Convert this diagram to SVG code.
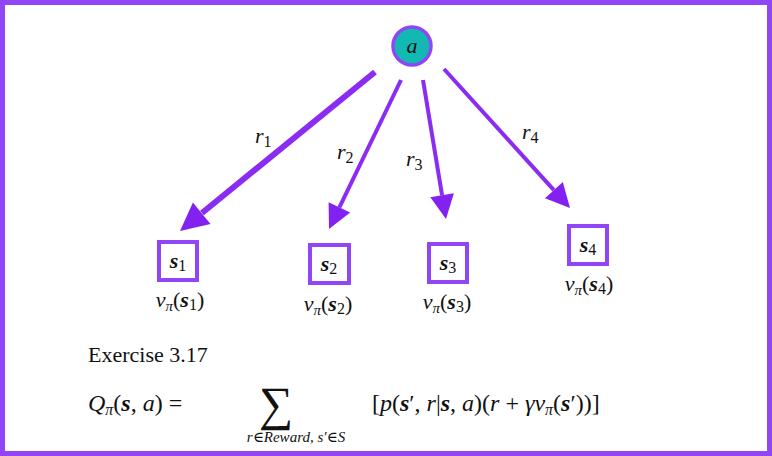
<svg xmlns="http://www.w3.org/2000/svg" width="772" height="456" viewBox="0 0 772 456" font-family="'Liberation Serif', 'DejaVu Serif', serif">
<style>
text{font-family:'Liberation Serif','DejaVu Serif',serif;fill:#111}
.i{font-style:italic}
.b{font-weight:bold;font-style:italic}
.box{fill:#fff;stroke:#9146f5;stroke-width:4}
.e{stroke:#8a2cf2;fill:none}
.h{fill:#8322f0}
</style>
<rect x="2.5" y="2.5" width="767" height="451" fill="#fff" stroke="#9146f5" stroke-width="5"/>
<g id="connectors">
<line class="e" x1="375" y1="72" x2="202" y2="213" stroke-width="6"/>
<polygon class="h" points="180,231 210.5,224.1 192.9,202.5"/>
<line class="e" x1="401" y1="80" x2="339.4" y2="207.4" stroke-width="4"/>
<polygon class="h" points="329,229 350.2,212.6 328.6,202.2"/>
<line class="e" x1="423" y1="80" x2="442.1" y2="195.3" stroke-width="4"/>
<polygon class="h" points="446,219 453.9,193.3 430.3,197.3"/>
<line class="e" x1="444" y1="69" x2="553.9" y2="190.2" stroke-width="4"/>
<polygon class="h" points="570,208 562.8,182.1 545,198.3"/>
<text x="255" y="143" font-size="22" class="i">r<tspan font-style="normal" font-size="16" dy="4">1</tspan></text>
<text x="337" y="159" font-size="22" class="i">r<tspan font-style="normal" font-size="16" dy="4">2</tspan></text>
<text x="406" y="166" font-size="22" class="i">r<tspan font-style="normal" font-size="16" dy="4">3</tspan></text>
<text x="522" y="139" font-size="22" class="i">r<tspan font-style="normal" font-size="16" dy="4">4</tspan></text>
</g>
<g id="a"><circle cx="412" cy="46" r="19" fill="#12b8b2" stroke="#9146f5" stroke-width="3.5"/><text x="412" y="53" font-size="22" class="i" text-anchor="middle">a</text></g>
<g id="s1"><rect class="box" x="159" y="242" width="38" height="38"/><text x="178" y="268" font-size="22" text-anchor="middle"><tspan class="b">s</tspan><tspan font-size="16" dy="3">1</tspan></text><text x="180" y="307" font-size="22" text-anchor="middle"><tspan class="i">v</tspan><tspan class="i" font-size="15" dy="4">π</tspan><tspan dy="-4">(</tspan><tspan class="b">s</tspan><tspan font-size="16" dy="3">1</tspan><tspan dy="-3">)</tspan></text></g>
<g id="s2"><rect class="box" x="310" y="245" width="39" height="38"/><text x="329" y="271" font-size="22" text-anchor="middle"><tspan class="b">s</tspan><tspan font-size="16" dy="3">2</tspan></text><text x="328" y="311" font-size="22" text-anchor="middle"><tspan class="i">v</tspan><tspan class="i" font-size="15" dy="4">π</tspan><tspan dy="-4">(</tspan><tspan class="b">s</tspan><tspan font-size="16" dy="3">2</tspan><tspan dy="-3">)</tspan></text></g>
<g id="s3"><rect class="box" x="429" y="244" width="38" height="38"/><text x="448" y="270" font-size="22" text-anchor="middle"><tspan class="b">s</tspan><tspan font-size="16" dy="3">3</tspan></text><text x="447" y="309" font-size="22" text-anchor="middle"><tspan class="i">v</tspan><tspan class="i" font-size="15" dy="4">π</tspan><tspan dy="-4">(</tspan><tspan class="b">s</tspan><tspan font-size="16" dy="3">3</tspan><tspan dy="-3">)</tspan></text></g>
<g id="s4"><rect class="box" x="569" y="226" width="38" height="38"/><text x="588" y="252" font-size="22" text-anchor="middle"><tspan class="b">s</tspan><tspan font-size="16" dy="3">4</tspan></text><text x="589" y="291" font-size="22" text-anchor="middle"><tspan class="i">v</tspan><tspan class="i" font-size="15" dy="4">π</tspan><tspan dy="-4">(</tspan><tspan class="b">s</tspan><tspan font-size="16" dy="3">4</tspan><tspan dy="-3">)</tspan></text></g>
<text x="88" y="362" font-size="22">Exercise 3.17</text>
<text x="88" y="411" font-size="24"><tspan class="i">Q</tspan><tspan class="i" font-size="16" dy="4">π</tspan><tspan dy="-4">(</tspan><tspan class="b">s</tspan><tspan>, </tspan><tspan class="i">a</tspan><tspan>) =</tspan></text>
<text x="276" y="420" font-size="48" text-anchor="middle">∑</text>
<text x="296" y="442" font-size="15" class="i" text-anchor="middle">r∈Reward, s′∈S</text>
<text x="372" y="411" font-size="24">[<tspan class="i">p</tspan>(<tspan class="b">s</tspan>′, <tspan class="i">r</tspan>|<tspan class="b">s</tspan>, <tspan class="i">a</tspan>)(<tspan class="i">r</tspan> + <tspan class="i">γv</tspan><tspan class="i" font-size="16" dy="4">π</tspan><tspan dy="-4">(</tspan><tspan class="b">s</tspan>′))]</text>
</svg>
